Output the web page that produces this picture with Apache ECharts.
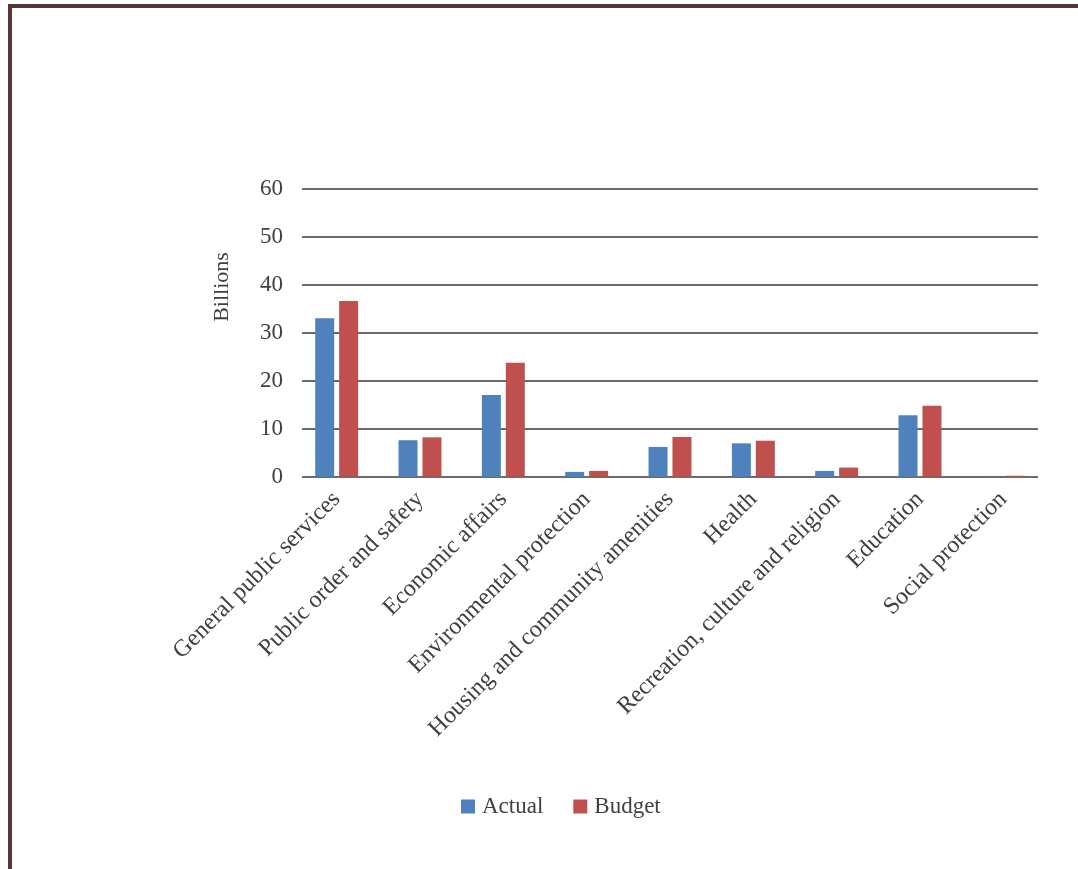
<!DOCTYPE html>
<html>
<head>
<meta charset="utf-8">
<script src="https://cdn.jsdelivr.net/npm/echarts@6/dist/echarts.min.js"></script>
<style>
  html, body { margin: 0; padding: 0; background: #fff; }
  #frame { position: absolute; left: 8px; top: 4px; width: 1070px; height: 865px;
           border-top: 4px solid #573636; border-left: 4px solid #573636; box-sizing: border-box; }
  #chart { position: absolute; left: 0; top: 0; width: 1078px; height: 869px; }
</style>
</head>
<body>
<div id="frame"></div>
<div id="chart"></div>
<script>
const categories = [
  'General public services',
  'Public order and safety',
  'Economic affairs',
  'Environmental protection',
  'Housing and community amenities',
  'Health',
  'Recreation, culture and religion',
  'Education',
  'Social protection'
];
const actual = [33.0, 7.6, 17.0, 1.0, 6.2, 6.95, 1.2, 12.8, 0.08];
const budget = [36.6, 8.2, 23.75, 1.2, 8.27, 7.5, 1.9, 14.8, 0.2];
const yTicks = { min: 0, max: 60, interval: 10 };
const axisTitle = 'Billions';

const FONT = '"Liberation Serif", "Times New Roman", serif';
const TXT = '#404040';

const chart = echarts.init(document.getElementById('chart'), null, { renderer: 'canvas' });
chart.setOption({
  animation: false,
  backgroundColor: 'transparent',
  textStyle: { fontFamily: FONT },
  legend: {
    data: ['Actual', 'Budget'],
    left: 456, top: 790,
    itemWidth: 14, itemHeight: 14, itemGap: 30,
    icon: 'rect',
    textStyle: { fontFamily: FONT, fontSize: 23, color: TXT, padding: [0, 0, 0, 2] }
  },
  grid: [
    { left: 302, right: 40, top: 188.7, bottom: 392.3 },
    { left: 295, right: 33, top: 188.7, bottom: 392.3 }
  ],
  xAxis: [
    { gridIndex: 0, type: 'category', data: categories, show: false },
    {
      gridIndex: 1, type: 'category', data: categories,
      axisLine: { show: false }, axisTick: { show: false },
      axisLabel: {
        rotate: 45, interval: 0, margin: 19,
        fontFamily: FONT, fontSize: 24, color: TXT
      }
    }
  ],
  yAxis: [
    {
      gridIndex: 0, type: 'value', min: yTicks.min, max: yTicks.max, interval: yTicks.interval,
      axisLine: { show: false }, axisTick: { show: false },
      splitLine: { lineStyle: { color: '#3a3a3a', width: 1.6 } },
      axisLabel: {
        margin: 19, fontFamily: FONT, fontSize: 23,
        color: function (v) { return v === 0 ? '#7f7f7f' : TXT; }
      }
    },
    {
      gridIndex: 1, type: 'value', min: yTicks.min, max: yTicks.max, interval: yTicks.interval,
      show: false, splitLine: { show: false }
    }
  ],
  series: [
    {
      name: 'Actual', type: 'bar', xAxisIndex: 1, yAxisIndex: 1, data: actual,
      barWidth: 19, barGap: '26%',
      itemStyle: { color: '#4f81bd' }
    },
    {
      name: 'Budget', type: 'bar', xAxisIndex: 1, yAxisIndex: 1, data: budget,
      barWidth: 19, barGap: '26%',
      itemStyle: { color: '#c0504d' }
    }
  ],
  graphic: [
    {
      type: 'text', x: 222, y: 287, rotation: Math.PI / 2,
      style: {
        text: axisTitle, fontFamily: FONT, fontSize: 22, fill: TXT,
        textAlign: 'center', textVerticalAlign: 'middle'
      }
    }
  ]
});
</script>
</body>
</html>
